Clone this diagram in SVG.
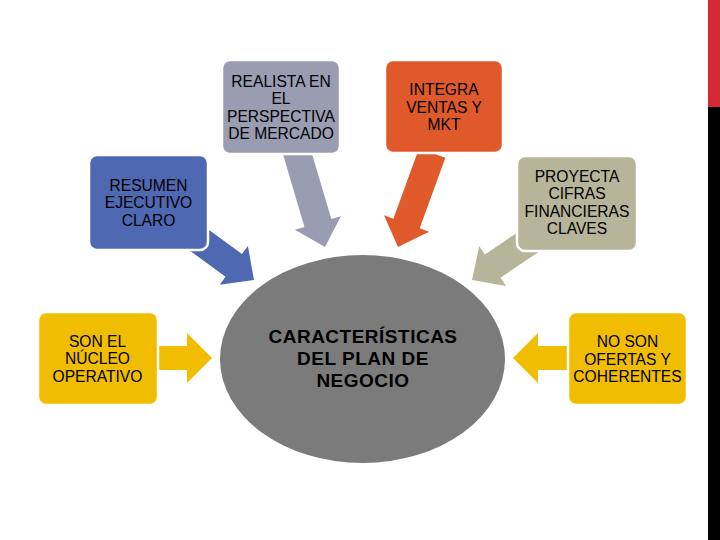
<svg xmlns="http://www.w3.org/2000/svg" width="720" height="540" viewBox="0 0 720 540">
<style>
.box{stroke:#ffffff;stroke-width:2.5}
.t{font-family:"Liberation Sans",Arial,sans-serif;font-size:15.6px;fill:#000;text-anchor:middle}
.tb{font-family:"Liberation Sans",Arial,sans-serif;font-size:19px;font-weight:bold;letter-spacing:0.5px;fill:#000;text-anchor:middle}
</style>
<defs>
<path id="darr" d="M0,0 L-25,-24 L-25,-14 L-100,-14 L-100,14 L-25,14 L-25,24 Z"/>
<path id="sarr" d="M0,0 L-25,-24 L-25,-14 L-75,-14 L-75,14 L-25,14 L-25,24 Z"/>
<path id="harr" d="M0,0 L-25,-25 L-25,-12 L-56,-12 L-56,12 L-25,12 L-25,25 Z"/>
</defs>
<rect width="720" height="540" fill="#ffffff"/>
<rect x="708" y="0" width="12" height="107" fill="#d42a33"/>
<rect x="708" y="107" width="12" height="433" fill="#000000"/>
<g id="connectors">
<use href="#sarr" fill="#4f68b2" transform="translate(254,280) rotate(36)"/>
<use href="#darr" fill="#9a9cb2" transform="translate(325,247) rotate(73.5)"/>
<use href="#darr" fill="#e0592a" transform="translate(398,247) rotate(110)"/>
<use href="#sarr" fill="#b6b59a" transform="translate(472,280) rotate(146)"/>
<use href="#harr" fill="#f1bd00" transform="translate(212,358)"/>
<use href="#harr" fill="#f1bd00" transform="translate(513,358) rotate(180)"/>
</g>
<g id="center">
<ellipse cx="362.5" cy="359" rx="142.5" ry="104" fill="#7b7b7b"/>
<text class="tb" x="363" y="343">CARACTERÍSTICAS</text>
<text class="tb" x="363" y="365">DEL PLAN DE</text>
<text class="tb" x="363" y="387">NEGOCIO</text>
</g>
<g id="realista">
<rect class="box" x="222" y="60" width="118" height="94" rx="8" fill="#9a9cb2"/>
<text class="t" x="281" y="86.7">REALISTA EN</text>
<text class="t" x="281" y="104.3">EL</text>
<text class="t" x="281" y="121.7">PERSPECTIVA</text>
<text class="t" x="281" y="139.3">DE MERCADO</text>
</g>
<g id="integra">
<rect class="box" x="385" y="60" width="118" height="93" rx="8" fill="#e0592a"/>
<text class="t" x="444" y="95">INTEGRA</text>
<text class="t" x="444" y="113">VENTAS Y</text>
<text class="t" x="444" y="130">MKT</text>
</g>
<g id="proyecta">
<rect class="box" x="517" y="156" width="120" height="95" rx="8" fill="#b6b59a"/>
<text class="t" x="577" y="181.7">PROYECTA</text>
<text class="t" x="577" y="199">CIFRAS</text>
<text class="t" x="577" y="216.7">FINANCIERAS</text>
<text class="t" x="577" y="234.3">CLAVES</text>
</g>
<g id="resumen">
<rect class="box" x="89" y="155" width="119" height="95" rx="8" fill="#4f68b2"/>
<text class="t" x="148.5" y="191">RESUMEN</text>
<text class="t" x="148.5" y="208.3">EJECUTIVO</text>
<text class="t" x="148.5" y="225.7">CLARO</text>
</g>
<g id="nucleo">
<rect class="box" x="38" y="312" width="120" height="93" rx="8" fill="#f1bd00"/>
<text class="t" x="97.5" y="346.7">SON EL</text>
<text class="t" x="97.5" y="364">NÚCLEO</text>
<text class="t" x="97.5" y="381.7">OPERATIVO</text>
</g>
<g id="ofertas">
<rect class="box" x="568" y="312" width="119" height="93" rx="8" fill="#f1bd00"/>
<text class="t" x="627.5" y="346.7">NO SON</text>
<text class="t" x="627.5" y="365">OFERTAS Y</text>
<text class="t" x="627.5" y="381.7">COHERENTES</text>
</g>
</svg>
